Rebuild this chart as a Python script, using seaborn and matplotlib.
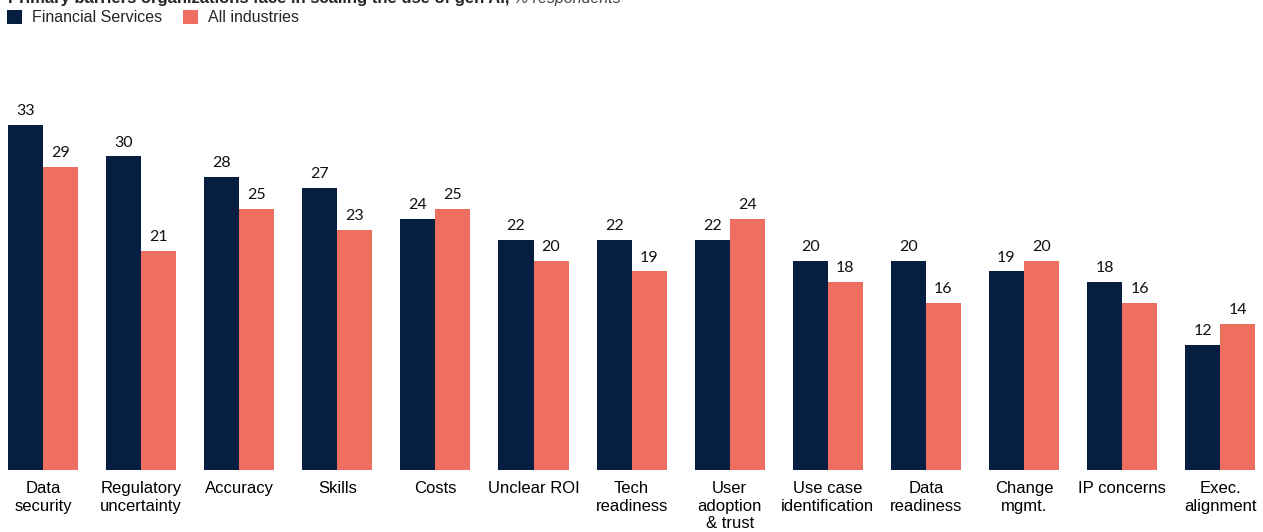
import matplotlib
matplotlib.use("Agg")
import matplotlib.pyplot as plt
import seaborn as sns
import pandas as pd
from matplotlib.patches import Patch

categories = ["Data\nsecurity", "Regulatory\nuncertainty", "Accuracy", "Skills", "Costs",
              "Unclear ROI", "Tech\nreadiness", "User\nadoption\n& trust", "Use case\nidentification",
              "Data\nreadiness", "Change\nmgmt.", "IP concerns", "Exec.\nalignment"]
financial_services = [33, 30, 28, 27, 24, 22, 22, 22, 20, 20, 19, 18, 12]
all_industries = [29, 21, 25, 23, 25, 20, 19, 24, 18, 16, 20, 16, 14]
series_names = ["Financial Services", "All industries"]
title_bold = "Primary barriers organizations face in scaling the use of gen AI,"
title_light = "% respondents"

NAVY = "#061E41"
CORAL = "#EE6F5F"

df = pd.DataFrame({
    "category": categories * 2,
    "value": financial_services + all_industries,
    "series": [series_names[0]] * len(categories) + [series_names[1]] * len(categories),
})

sns.set_theme(style="white")
plt.rcParams["font.family"] = ["Liberation Sans", "DejaVu Sans"]

W, H = 1263, 532
fig = plt.figure(figsize=(W / 100, H / 100), dpi=100)
px_per_cat = 98.1
first_center = 43
bottom_px = 470
top_px = 60
ax = fig.add_axes([0, (H - bottom_px) / H, 1, (bottom_px - top_px) / H])

sns.barplot(data=df, x="category", y="value", hue="series", order=categories,
            hue_order=series_names, palette=[NAVY, CORAL], width=0.714,
            dodge=True, saturation=1, ax=ax, legend=False,
            linewidth=0, edgecolor="none")

ax.set_xlim(-first_center / px_per_cat, (W - first_center) / px_per_cat)
ax.set_ylim(0, (bottom_px - top_px) / 10.45)
for c in ax.containers:
    ax.bar_label(c, fmt="%d", padding=5, fontsize=11.5, family="Lato", color="#111111")

for s in ax.spines.values():
    s.set_visible(False)
ax.set_yticks([])
ax.set_xlabel("")
ax.set_ylabel("")
ax.tick_params(axis="x", length=0, pad=8, labelsize=12, labelcolor="#000000")
for lbl in ax.get_xticklabels():
    lbl.set_linespacing(1.2)
ax.grid(False)

handles = [Patch(facecolor=NAVY, edgecolor="none"), Patch(facecolor=CORAL, edgecolor="none")]
fig.legend(handles, series_names, loc="upper left", bbox_to_anchor=(0.002, 1 - 5 / H),
           ncol=2, frameon=False, fontsize=11.5, handlelength=0.95, handleheight=0.95,
           handletextpad=0.6, columnspacing=1.3, borderaxespad=0.0, borderpad=0.3)

t1 = fig.text(8 / W, 1 - 3 / H, title_bold, fontsize=12, fontweight="bold", va="baseline", ha="left")
fig.canvas.draw()
bb = t1.get_window_extent()
fig.text((bb.x1 + 5) / W, 1 - 3 / H, title_light, fontsize=11.5, style="italic",
         color="#444444", va="baseline", ha="left")

fig.savefig("out.png", dpi=100)
